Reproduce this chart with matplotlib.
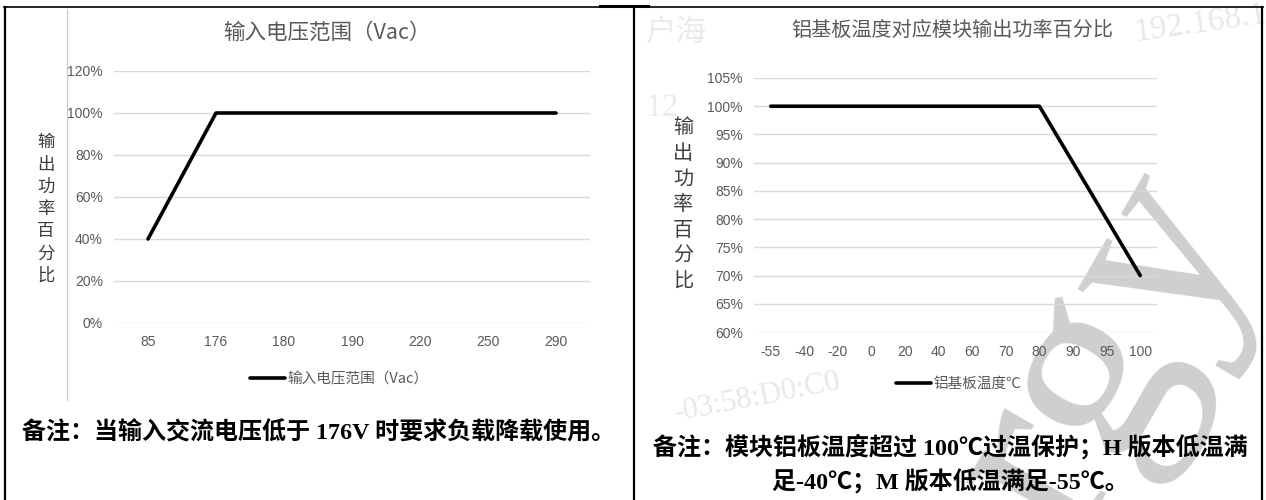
import matplotlib.pyplot as plt
from matplotlib.lines import Line2D

# data
volt_labels = ['85', '176', '180', '190', '220', '250', '290']
volt_power = [0.40, 1.00, 1.00, 1.00, 1.00, 1.00, 1.00]
volt_yticks = [0.0, 0.2, 0.4, 0.6, 0.8, 1.0, 1.2]

temp_labels = ['-55', '-40', '-20', '0', '20', '40', '60', '70', '80', '90', '95', '100']
temp_power = [1.00, 1.00, 1.00, 1.00, 1.00, 1.00, 1.00, 1.00, 1.00, 0.90, 0.80, 0.70]
temp_yticks = [0.60, 0.65, 0.70, 0.75, 0.80, 0.85, 0.90, 0.95, 1.00, 1.05]

title_volt = '输入电压范围（Vac）'
title_temp = '铝基板温度对应模块输出功率百分比'
legend_volt = '输入电压范围（Vac）'
legend_temp = '铝基板温度℃'
ylabel = '输出功率百分比'
note_volt = '备注：当输入交流电压低于 176V 时要求负载降载使用。'
note_temp1 = '备注：模块铝板温度超过 100℃过温保护；H 版本低温满'
note_temp2 = '足-40℃；M 版本低温满足-55℃。'

W, H = 1266, 500
CJK = ['Noto Sans CJK SC', 'DejaVu Sans']
TICKF = ['Liberation Sans Narrow', 'Liberation Sans', 'DejaVu Sans']
NOTEF = ['Liberation Serif', 'Noto Sans CJK SC']
GRAY = '#595959'

plt.rcParams['font.family'] = CJK

fig = plt.figure(figsize=(W / 100, H / 100), dpi=100)


def fx(px):
    return px / W


def fy(py):
    return 1 - py / H


# watermarks (behind everything)
fig.text(fx(1105), fy(355), 'rgy', rotation=60, fontsize=200, family='Liberation Serif',
         color='#cfcfcf', ha='center', va='center', zorder=-5)
fig.text(fx(676), fy(34), '户海', fontsize=22, family=NOTEF, color='#ebebeb',
         ha='center', va='center', zorder=-5)
fig.text(fx(1200), fy(24), '192.168.1', rotation=8, fontsize=24, family='Liberation Serif',
         color='#e8e8e8', ha='center', va='center', zorder=-5)
fig.text(fx(662), fy(108), '12', fontsize=24, family='Liberation Serif',
         color='#ececec', ha='center', va='center', zorder=-5)
fig.text(fx(758), fy(397), '-03:58:D0:C0', rotation=11, fontsize=22, family='Liberation Serif',
         color='#e8e8e8', ha='center', va='center', zorder=-5)


def draw_chart(rect, labels, values, yticks, ylim, title, title_xy, title_size, leg_label, leg_xy):
    ax = fig.add_axes(rect)
    ax.set_facecolor('none')
    x = list(range(len(labels)))
    ax.plot(x, values, color='black', lw=2.6, solid_capstyle='round', label=leg_label, zorder=3)
    ax.set_xlim(-0.5, len(labels) - 0.5)
    ax.set_ylim(*ylim)
    ax.set_xticks(x)
    ax.set_xticklabels(labels, family=TICKF, fontsize=10, color=GRAY)
    ax.set_yticks(yticks)
    ax.set_yticklabels([f'{round(v * 100)}%' for v in yticks], family=TICKF, fontsize=10, color=GRAY)
    ax.tick_params(length=0, axis='x', pad=9)
    ax.tick_params(length=0, axis='y', pad=8)
    ax.grid(axis='y', color='#d9d9d9', lw=1)
    ax.set_axisbelow(True)
    for s in ax.spines.values():
        s.set_visible(False)
    fig.text(fx(title_xy[0]), fy(title_xy[1]), title, fontsize=title_size, color=GRAY,
             ha='center', va='center')
    leg = ax.legend(loc='center left', bbox_to_anchor=(fx(leg_xy[0]), fy(leg_xy[1])),
                    bbox_transform=fig.transFigure, frameon=False, borderpad=0,
                    borderaxespad=0, handlelength=2.4, handletextpad=0.15,
                    prop={'family': CJK, 'size': 10.5})
    for t in leg.get_texts():
        t.set_color(GRAY)
    return ax


# left chart: input voltage
draw_chart([fx(114), fy(323), fx(590) - fx(114), fy(71) - fy(323)],
           volt_labels, volt_power, volt_yticks, (0, 1.2),
           title_volt, (327, 33), 15.5, legend_volt, (250, 379))
fig.text(fx(46), fy(209), '\n'.join(ylabel), fontsize=12.5, color='#3a3a3a',
         ha='center', va='center', linespacing=1.3)

# right chart: aluminium board temperature
draw_chart([fx(754), fy(332), fx(1157) - fx(754), fy(78) - fy(332)],
           temp_labels, temp_power, temp_yticks, (0.60, 1.05),
           title_temp, (952, 30), 14.5, legend_temp, (896, 384))
fig.text(fx(683), fy(205), '\n'.join(ylabel), fontsize=14.5, color='#404040',
         ha='center', va='center', linespacing=1.3)

# notes
fig.text(fx(22), fy(433), note_volt, family=NOTEF, fontsize=17.3, fontweight='bold',
         color='black', ha='left', va='center')
fig.text(fx(950), fy(447), note_temp1, family=NOTEF, fontsize=17.3, fontweight='bold',
         color='black', ha='center', va='center')
fig.text(fx(950), fy(482), note_temp2, family=NOTEF, fontsize=17.3, fontweight='bold',
         color='black', ha='center', va='center')

# table borders
border = dict(color='black', transform=fig.transFigure, zorder=10)
fig.add_artist(Line2D([fx(4), fx(1263)], [fy(7), fy(7)], lw=1.2, **border))
fig.add_artist(Line2D([fx(600), fx(648)], [fy(6), fy(6)], lw=2.2, **border))
fig.add_artist(Line2D([fx(5), fx(5)], [fy(7), fy(500)], lw=1.6, **border))
fig.add_artist(Line2D([fx(634), fx(634)], [fy(7), fy(500)], lw=1.6, **border))
fig.add_artist(Line2D([fx(1262), fx(1262)], [fy(7), fy(500)], lw=1.6, **border))
# chart frame left edge (light gray)
fig.add_artist(Line2D([fx(67), fx(67)], [fy(9), fy(400)], lw=0.8, color='#c8c8c8',
                      transform=fig.transFigure))

fig.savefig('out.png', dpi=100)
